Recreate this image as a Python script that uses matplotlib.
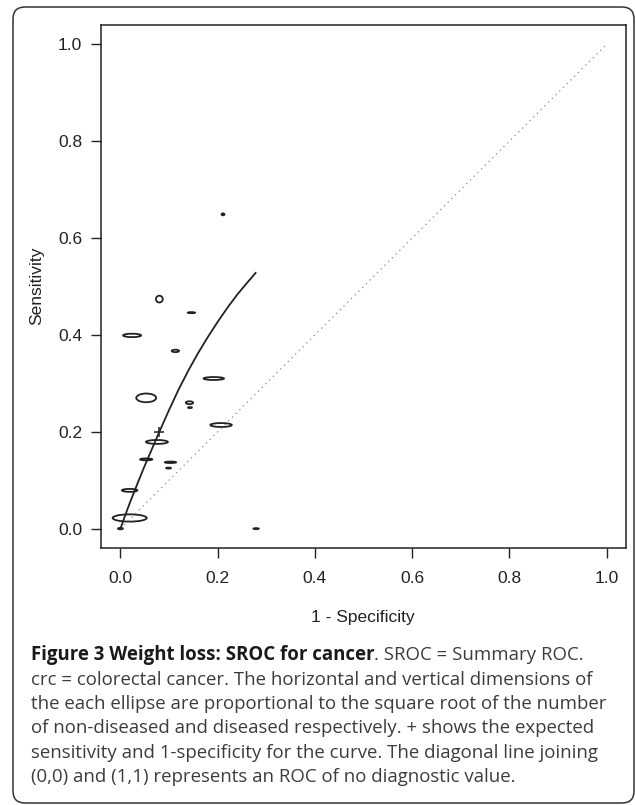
import matplotlib
matplotlib.use("Agg")
import matplotlib.pyplot as plt
from matplotlib.patches import Ellipse, FancyBboxPatch
from matplotlib.transforms import IdentityTransform

# study ellipses: centre (1-specificity, sensitivity), width/height in data units
study_fpr = [0.080, 0.146, 0.024, 0.113, 0.192, 0.053, 0.142, 0.143, 0.207,
             0.075, 0.053, 0.103, 0.099, 0.019, 0.019, 0.000, 0.279, 0.211]
study_tpr = [0.474, 0.446, 0.399, 0.367, 0.310, 0.270, 0.260, 0.250, 0.214,
             0.179, 0.143, 0.137, 0.125, 0.079, 0.022, 0.000, 0.000, 0.649]
study_w = [0.014, 0.015, 0.037, 0.015, 0.042, 0.041, 0.015, 0.008, 0.044,
           0.045, 0.025, 0.023, 0.010, 0.032, 0.070, 0.010, 0.011, 0.006]
study_h = [0.014, 0.002, 0.007, 0.005, 0.006, 0.018, 0.006, 0.002, 0.008,
           0.008, 0.004, 0.003, 0.002, 0.006, 0.015, 0.003, 0.002, 0.004]

# SROC curve
sroc_fpr = [0.000, 0.005, 0.010, 0.020, 0.035, 0.050, 0.065, 0.080, 0.100,
            0.120, 0.140, 0.160, 0.180, 0.200, 0.220, 0.240, 0.260, 0.278]
sroc_tpr = [0.000, 0.014, 0.028, 0.055, 0.093, 0.130, 0.165, 0.200, 0.245,
            0.288, 0.327, 0.363, 0.396, 0.427, 0.456, 0.483, 0.507, 0.528]

# expected point (+)
exp_fpr, exp_tpr = 0.080, 0.200

ticks = [0.0, 0.2, 0.4, 0.6, 0.8, 1.0]
tick_labels = ["0.0", "0.2", "0.4", "0.6", "0.8", "1.0"]

caption_bold = "Figure 3 Weight loss: SROC for cancer"
caption_lines = [
    ". SROC = Summary ROC.",
    "crc = colorectal cancer. The horizontal and vertical dimensions of",
    "the each ellipse are proportional to the square root of the number",
    "of non-diseased and diseased respectively. + shows the expected",
    "sensitivity and 1-specificity for the curve. The diagonal line joining",
    "(0,0) and (1,1) represents an ROC of no diagnostic value.",
]

W, H = 636, 805
fig = plt.figure(figsize=(W / 100, H / 100), dpi=100)
ax = fig.add_axes([101 / W, 1 - 548 / H, 525 / W, 523 / H])

ink = "#222222"
for x, y, w, h in zip(study_fpr, study_tpr, study_w, study_h):
    ax.add_patch(Ellipse((x, y), w, h, fill=False, edgecolor=ink, lw=1.3))

ax.plot([0, 1], [0, 1], color="#888888", lw=0.9, linestyle=(0, (1, 3.2)))
ax.plot(sroc_fpr, sroc_tpr, color=ink, lw=1.3)
ax.plot([exp_fpr], [exp_tpr], marker="+", color=ink, markersize=7, mew=1.1)

ax.set_xlim(-0.04, 1.04)
ax.set_ylim(-0.04, 1.04)
ax.set_xticks(ticks)
ax.set_xticklabels(tick_labels)
ax.set_yticks(ticks)
ax.set_yticklabels(tick_labels)

tick_font = dict(family="Liberation Sans", size=12.5, color=ink)
for lab in ax.get_xticklabels() + ax.get_yticklabels():
    lab.set_fontfamily("Liberation Sans")
    lab.set_fontsize(12.5)
    lab.set_color(ink)
ax.tick_params(axis="both", direction="out", length=7.5, width=1.0, color=ink)
ax.tick_params(axis="x", pad=9)
ax.tick_params(axis="y", pad=6)
for s in ax.spines.values():
    s.set_linewidth(1.1)
    s.set_color(ink)

fig.text(363 / W, 1 - 617 / H, "1 - Specificity", ha="center", va="center", **tick_font)
fig.text(37 / W, 1 - 286 / H, "Sensitivity", ha="center", va="center", rotation=90, **tick_font)

# rounded outer frame
frame = FancyBboxPatch((13, 2), 621, 796, boxstyle="round,pad=0,rounding_size=12",
                       transform=IdentityTransform(), fill=False, edgecolor="#333333", lw=1.1)
fig.patches.append(frame)

# caption
cap_size = 13.4
cap_x = 31
baselines = [660, 685, 709, 733, 758, 782]
renderer = fig.canvas.get_renderer()
tb = fig.text(cap_x / W, 1 - baselines[0] / H, caption_bold, family="Open Sans",
              weight="bold", size=cap_size, color="#1a1a1a", va="baseline")
bb = tb.get_window_extent(renderer)
fig.text(bb.x1 / W, 1 - baselines[0] / H, caption_lines[0], family="Open Sans",
         size=cap_size, color="#3c3c3c", va="baseline")
for line, yb in zip(caption_lines[1:], baselines[1:]):
    fig.text(cap_x / W, 1 - yb / H, line, family="Open Sans", size=cap_size,
             color="#3c3c3c", va="baseline")

fig.savefig("out.png", dpi=100)
